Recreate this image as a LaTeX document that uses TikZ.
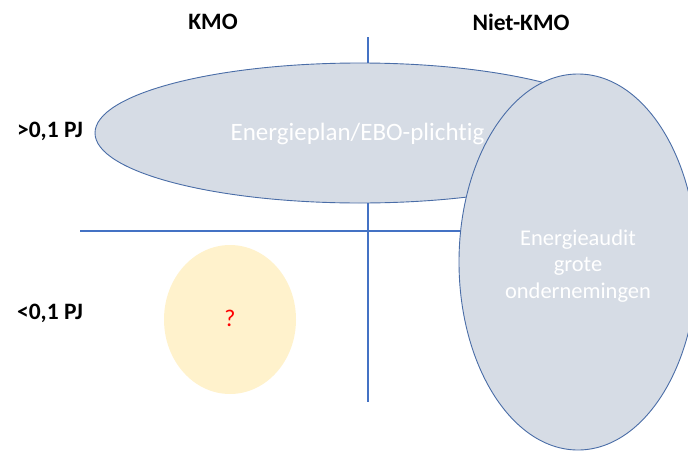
\documentclass[tikz,border=0pt]{standalone}
\usepackage{fontspec}
\setmainfont{Carlito}[Ligatures=NoCommon]
\usetikzlibrary{shapes.geometric}
\definecolor{axisblue}{HTML}{4472C4}
\definecolor{greyfill}{HTML}{D6DCE5}
\definecolor{borderblue}{HTML}{4A6DA7}
\definecolor{yellowfill}{HTML}{FFF2CC}
\tikzset{
  axisline/.style={draw=axisblue, line width=2pt},
  greyell/.style={ellipse, fill=greyfill, draw=borderblue, line width=0.9pt, inner sep=0pt},
  yellowell/.style={ellipse, fill=yellowfill, draw=none, inner sep=0pt},
  whitetext/.style={text=white, font=\fontsize{22.5}{26.5}\selectfont, align=center},
  headlabel/.style={font=\bfseries\fontsize{23.5}{26}\selectfont, text=black}
}
\begin{document}
\begin{tikzpicture}[x=1pt, y=-1pt]
\useasboundingbox (0,0) rectangle (688,450);
% axes
\coordinate (vtop) at (368,37);
\coordinate (vbot) at (368,402);
\coordinate (hleft) at (80,231);
\coordinate (hright) at (500,231);
\draw[axisline] (vtop) -- (vbot);
\draw[axisline] (hleft) -- (hright);
% header labels
\node[headlabel] (kmo) at (213,22) {KMO};
\node[headlabel] (nietkmo) at (521,22) {Niet-KMO};
\node[headlabel] (gt) at (50,131) {>0,1 PJ};
\node[headlabel] (lt) at (50,313) {<0,1 PJ};
% ellipses
\node[greyell, minimum width=530pt, minimum height=140pt] (ebo) at (360,133) {};
\node[whitetext, font=\fontsize{25}{28}\selectfont] (ebotext) at (357.5,134) {Energieplan/EBO-plichtig};
\node[greyell, minimum width=238pt, minimum height=376pt] (audit) at (578,262) {};
\node[whitetext] (audittext) at (578,266) {Energieaudit\\grote\\ondernemingen};
\node[yellowell, minimum width=132pt, minimum height=149pt] (unk) at (230,319.5) {};
\node[text=red, font=\fontsize{24}{26}\selectfont] (q) at (230,318) {?};
\end{tikzpicture}
\end{document}
